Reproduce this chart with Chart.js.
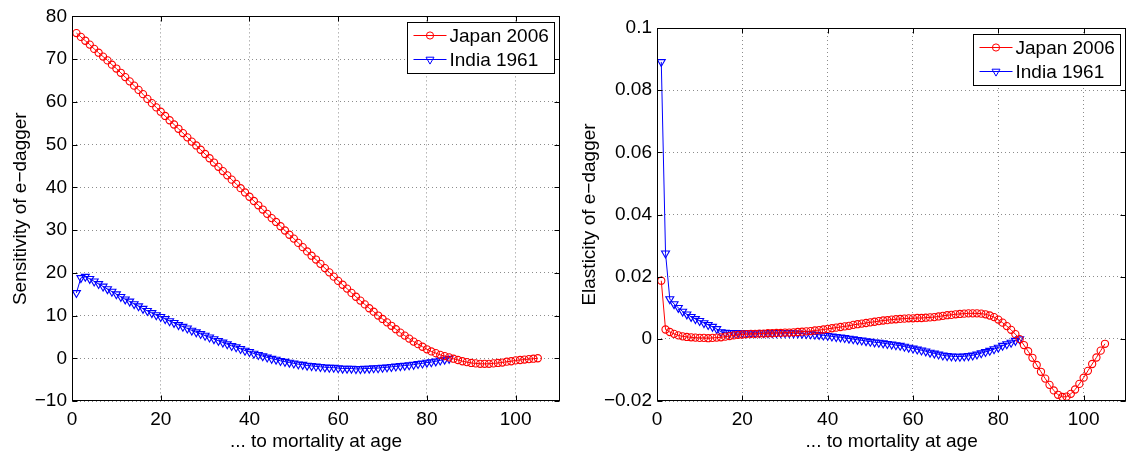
<!DOCTYPE html>
<html>
<head>
<meta charset="utf-8">
<script src="https://cdn.jsdelivr.net/npm/chart.js@4.4.0/dist/chart.umd.min.js"></script>
<style>
  html, body { margin: 0; padding: 0; background: #fff; }
  .panel { position: absolute; top: 0; width: 566px; height: 453px; }
</style>
</head>
<body>
<div class="panel" style="left:0"><canvas id="sensChart" width="566" height="453"></canvas></div>
<div class="panel" style="left:566px"><canvas id="elasChart" width="566" height="453"></canvas></div>
<script>
/* ages (x axis) */
const japanAges = [
  1, 2, 3, 4, 5, 6, 7, 8, 9, 10, 11, 12, 13, 14, 15, 16, 17, 18, 19, 20,
  21, 22, 23, 24, 25, 26, 27, 28, 29, 30, 31, 32, 33, 34, 35, 36, 37, 38, 39, 40,
  41, 42, 43, 44, 45, 46, 47, 48, 49, 50, 51, 52, 53, 54, 55, 56, 57, 58, 59, 60,
  61, 62, 63, 64, 65, 66, 67, 68, 69, 70, 71, 72, 73, 74, 75, 76, 77, 78, 79, 80,
  81, 82, 83, 84, 85, 86, 87, 88, 89, 90, 91, 92, 93, 94, 95, 96, 97, 98, 99, 100,
  101, 102, 103, 104, 105
];
const indiaAges = japanAges.slice(0, 85);

/* sensitivity of e-dagger */
const japanSens = [
  76.1, 75.2, 74.3, 73.4, 72.4, 71.5, 70.6, 69.7, 68.7, 67.8,
  66.8, 65.8, 64.8, 63.8, 62.8, 61.8, 60.7, 59.7, 58.7, 57.7,
  56.7, 55.7, 54.7, 53.7, 52.7, 51.7, 50.7, 49.8, 48.8, 47.8,
  46.8, 45.8, 44.8, 43.8, 42.8, 41.8, 40.8, 39.8, 38.8, 37.8,
  36.8, 35.8, 34.8, 33.8, 32.8, 31.9, 30.9, 29.9, 28.9, 28.0,
  27.0, 26.0, 25.0, 24.0, 23.1, 22.1, 21.1, 20.1, 19.1, 18.1,
  17.2, 16.3, 15.3, 14.4, 13.5, 12.6, 11.7, 10.9, 10.0, 9.2,
  8.4, 7.6, 6.8, 6.0, 5.3, 4.6, 3.9, 3.3, 2.7, 2.1,
  1.6, 1.2, 0.8, 0.5, 0.2, -0.1, -0.4, -0.7, -0.9, -1.1,
  -1.2, -1.3, -1.3, -1.3, -1.2, -1.1, -1.0, -0.8, -0.7, -0.5,
  -0.4, -0.3, -0.2, -0.1, 0.0
];
const indiaSens = [
  15.3, 18.8, 19.1, 18.6, 18.0, 17.4, 16.8, 16.2, 15.6, 15.0,
  14.4, 13.8, 13.3, 12.7, 12.2, 11.6, 11.1, 10.6, 10.1, 9.7,
  9.2, 8.7, 8.3, 7.8, 7.4, 7.0, 6.5, 6.1, 5.7, 5.3,
  4.9, 4.5, 4.1, 3.7, 3.3, 2.9, 2.6, 2.2, 1.8, 1.5,
  1.1, 0.8, 0.5, 0.2, -0.1, -0.3, -0.6, -0.8, -1.0, -1.2,
  -1.4, -1.5, -1.7, -1.8, -1.9, -2.0, -2.1, -2.2, -2.2, -2.3,
  -2.4, -2.4, -2.4, -2.5, -2.5, -2.4, -2.4, -2.3, -2.3, -2.2,
  -2.1, -2.0, -1.9, -1.8, -1.7, -1.6, -1.5, -1.3, -1.2, -1.0,
  -0.9, -0.7, -0.5, -0.3, -0.1
];

/* elasticity of e-dagger */
const japanElas = [
  0.0187, 0.0030, 0.0022, 0.0016, 0.0011, 0.0008, 0.0006, 0.0005, 0.0004, 0.0003,
  0.0003, 0.0002, 0.0003, 0.0004, 0.0005, 0.0007, 0.0009, 0.0011, 0.0013, 0.0014,
  0.0015, 0.0016, 0.0016, 0.0017, 0.0017, 0.0018, 0.0018, 0.0019, 0.0019, 0.0020,
  0.0020, 0.0021, 0.0022, 0.0023, 0.0024, 0.0025, 0.0027, 0.0028, 0.0030, 0.0032,
  0.0034, 0.0036, 0.0038, 0.0040, 0.0042, 0.0045, 0.0047, 0.0049, 0.0051, 0.0053,
  0.0055, 0.0057, 0.0059, 0.0060, 0.0062, 0.0063, 0.0064, 0.0065, 0.0066, 0.0066,
  0.0067, 0.0067, 0.0068, 0.0069, 0.0070, 0.0072, 0.0074, 0.0076, 0.0077, 0.0079,
  0.0080, 0.0081, 0.0082, 0.0082, 0.0082, 0.0081, 0.0079, 0.0075, 0.0070, 0.0062,
  0.0052, 0.0041, 0.0029, 0.0015, -0.0001, -0.0020, -0.0040, -0.0061, -0.0084, -0.0106,
  -0.0128, -0.0148, -0.0166, -0.0180, -0.0187, -0.0186, -0.0177, -0.0163, -0.0145, -0.0125,
  -0.0103, -0.0081, -0.0060, -0.0038, -0.0016
];
const indiaElas = [
  0.0891, 0.0275, 0.0128, 0.0112, 0.0100, 0.0088, 0.0079, 0.0071, 0.0064, 0.0058,
  0.0051, 0.0045, 0.0039, 0.0032, 0.0022, 0.0020, 0.0019, 0.0019, 0.0019, 0.0019,
  0.0019, 0.0019, 0.0019, 0.0019, 0.0019, 0.0019, 0.0019, 0.0019, 0.0019, 0.0019,
  0.0019, 0.0018, 0.0018, 0.0017, 0.0016, 0.0015, 0.0014, 0.0013, 0.0011, 0.0010,
  0.0008, 0.0006, 0.0005, 0.0003, 0.0001, -0.0001, -0.0003, -0.0005, -0.0007, -0.0009,
  -0.0011, -0.0012, -0.0014, -0.0016, -0.0018, -0.0020, -0.0022, -0.0025, -0.0028, -0.0031,
  -0.0034, -0.0037, -0.0040, -0.0044, -0.0047, -0.0050, -0.0053, -0.0055, -0.0056, -0.0057,
  -0.0057, -0.0056, -0.0055, -0.0053, -0.0050, -0.0046, -0.0042, -0.0038, -0.0033, -0.0028,
  -0.0022, -0.0017, -0.0012, -0.0006, -0.0001
];

/* axis ticks */
const xTicks = [0, 20, 40, 60, 80, 100];
const sensTicks = [-10, 0, 10, 20, 30, 40, 50, 60, 70, 80];
const elasTicks = [-0.02, 0, 0.02, 0.04, 0.06, 0.08, 0.1];

const FONT = 'Liberation Sans, Arial, Helvetica, sans-serif';
const FS = 19;

const toPoints = (ages, vals) => ages.map((a, i) => ({ x: a, y: vals[i] }));

/* box, inward ticks and MATLAB-style legend */
const matlabFrame = {
  id: 'matlabFrame',
  afterDatasetsDraw(chart) {
    const { ctx, chartArea: a, scales } = chart;
    const L = Math.round(a.left) + 0.5, R = Math.round(a.right) - 0.5;
    const T = Math.round(a.top) + 0.5, B = Math.round(a.bottom) - 0.5;
    ctx.save();
    ctx.strokeStyle = '#000';
    ctx.lineWidth = 1;
    ctx.beginPath();
    scales.x.ticks.forEach(t => {
      const px = Math.round(scales.x.getPixelForValue(t.value)) + 0.5;
      ctx.moveTo(px, B); ctx.lineTo(px, B - 5);
      ctx.moveTo(px, T); ctx.lineTo(px, T + 5);
    });
    scales.y.ticks.forEach(t => {
      const py = Math.round(scales.y.getPixelForValue(t.value)) + 0.5;
      ctx.moveTo(L, py); ctx.lineTo(L + 5, py);
      ctx.moveTo(R, py); ctx.lineTo(R - 5, py);
    });
    ctx.stroke();
    ctx.strokeRect(L, T, R - L, B - T);

    // legend
    ctx.font = FS + 'px ' + FONT;
    const sets = chart.data.datasets;
    const textW = Math.max(...sets.map(d => ctx.measureText(d.label).width));
    const boxW = Math.round(6 + 33 + 4 + textW + 5), boxH = 51;
    const bx = Math.round(a.right - 6 - boxW) + 0.5, by = Math.round(a.top + 6) + 0.5;
    ctx.fillStyle = '#fff';
    ctx.fillRect(bx, by, boxW, boxH);
    ctx.strokeRect(bx, by, boxW, boxH);
    sets.forEach((d, i) => {
      const y = by + 13 + i * 24;
      ctx.strokeStyle = d.borderColor;
      ctx.lineWidth = 1;
      ctx.beginPath();
      ctx.moveTo(bx + 6, y); ctx.lineTo(bx + 39, y);
      ctx.stroke();
      ctx.fillStyle = 'rgba(0,0,0,0)';
      Chart.helpers.drawPoint(ctx, {
        pointStyle: d.pointStyle, rotation: d.pointRotation || 0,
        radius: d.pointRadius, borderWidth: 1
      }, bx + 22.5, y);
      ctx.fillStyle = '#000';
      ctx.textBaseline = 'middle';
      ctx.textAlign = 'left';
      ctx.fillText(d.label, bx + 42, y + 1);
    });
    ctx.restore();
  }
};

function makeChart(id, opts) {
  const tickFont = { family: FONT, size: FS };
  new Chart(document.getElementById(id), {
    type: 'line',
    data: {
      datasets: [
        {
          label: 'Japan 2006',
          data: toPoints(japanAges, opts.japan),
          borderColor: '#ff0000',
          borderWidth: 1,
          pointStyle: 'circle',
          pointRadius: 3.6,
          pointBorderWidth: 1.1,
          pointBackgroundColor: 'rgba(0,0,0,0)',
          tension: 0
        },
        {
          label: 'India 1961',
          data: toPoints(indiaAges, opts.india),
          borderColor: '#0000ff',
          borderWidth: 1,
          pointStyle: 'triangle',
          pointRotation: 180,
          pointRadius: 4.6,
          pointBorderWidth: 1.1,
          pointBackgroundColor: 'rgba(0,0,0,0)',
          tension: 0
        }
      ]
    },
    options: {
      responsive: false,
      devicePixelRatio: 1,
      animation: false,
      events: [],
      layout: { padding: { top: opts.top, right: opts.right, left: 0, bottom: 0 } },
      plugins: { legend: { display: false }, tooltip: { enabled: false } },
      scales: {
        x: {
          type: 'linear',
          min: 0, max: 110,
          afterBuildTicks: s => { s.ticks = xTicks.map(v => ({ value: v })); },
          afterFit: s => { s.height = 52; },
          grid: { color: '#8c8c8c', lineWidth: 1, drawTicks: false },
          border: { display: false, dash: [1, 3] },
          ticks: { font: tickFont, color: '#000', padding: 7, maxRotation: 0 },
          title: {
            display: true, text: '... to mortality at age',
            font: tickFont, color: '#000', padding: { top: 6, bottom: 0 }
          }
        },
        y: {
          min: opts.yMin, max: opts.yMax,
          afterBuildTicks: s => { s.ticks = opts.yTicks.map(v => ({ value: v })); },
          afterFit: s => { s.width = opts.yWidth; },
          grid: { color: '#8c8c8c', lineWidth: 1, drawTicks: false },
          border: { display: false, dash: [1, 3] },
          ticks: {
            font: tickFont, color: '#000', padding: 5,
            callback: v => String(v).replace('-', '\u2212')
          },
          title: {
            display: true, text: opts.yTitle,
            font: tickFont, color: '#000', padding: { top: opts.titlePad, bottom: 0 }
          }
        }
      }
    },
    plugins: [matlabFrame]
  });
}

makeChart('sensChart', {
  japan: japanSens, india: indiaSens,
  yMin: -10, yMax: 80, yTicks: sensTicks,
  yTitle: 'Sensitivity of e\u2212dagger',
  yWidth: 72, top: 16, right: 6, titlePad: 9
});

makeChart('elasChart', {
  japan: japanElas, india: indiaElas,
  yMin: -0.02, yMax: 0.1, yTicks: elasTicks,
  yTitle: 'Elasticity of e\u2212dagger',
  yWidth: 91, top: 28, right: 3, titlePad: 12
});
</script>
</body>
</html>
